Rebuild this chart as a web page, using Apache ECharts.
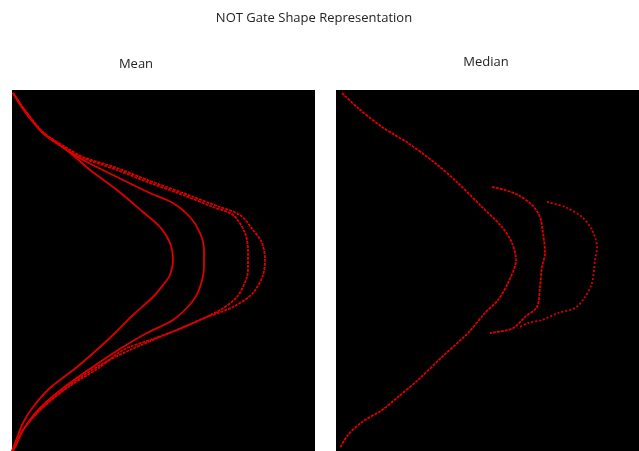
<!DOCTYPE html>
<html>
<head>
<meta charset="utf-8">
<script src="https://cdn.jsdelivr.net/npm/echarts@6/dist/echarts.min.js"></script>
<style>
  html, body { margin: 0; padding: 0; background: #fff; }
  #chart { width: 639px; height: 451px; }
</style>
</head>
<body>
<div id="chart"></div>
<script>
// values, in panel units (x to the right, y downward)
let panelTitles = ["Mean", "Median"];

let meanCurve1 = [[1,3],[13,22],[31,43],[48,55],[63,67],[78,80],[105,100],[131,122],[148,137],[158,153],[161,170],[158,185],[151,195],[141,207],[121,225],[103,243],[88,257],[65,277],[38,298],[21,317],[11,333],[3,353],[0,361]];
let meanCurve2 = [[1,3],[13,21],[31,43],[55,60],[71,70],[105,87],[138,103],[161,113],[178,127],[188,143],[192,160],[192,177],[188,197],[180,212],[161,230],[135,243],[111,257],[88,272],[55,295],[28,318],[11,340],[3,357],[0,361]];
let meanCurve3 = [[1,3],[13,21],[31,43],[55,60],[71,68],[105,80],[138,93],[171,105],[201,117],[221,125],[233,143],[236,160],[236,177],[235,187],[225,207],[208,220],[181,233],[148,247],[118,260],[88,275],[55,297],[28,320],[11,340],[3,357],[0,361]];
let meanCurve4 = [[1,3],[13,20],[31,42],[55,58],[71,67],[105,78],[138,91],[171,103],[205,116],[228,125],[241,140],[250,153],[253,170],[251,185],[241,203],[221,217],[195,227],[165,240],[138,250],[111,260],[88,277],[55,298],[28,320],[11,340],[3,357],[0,361]];

let medianCurve1 = [[6,3],[22,18],[46,37],[72,53],[99,73],[122,93],[146,117],[166,137],[176,153],[180,170],[172,193],[162,210],[149,223],[132,243],[106,267],[82,290],[62,307],[46,320],[26,332],[12,345],[4,358]];
let medianCurve2 = [[156,97],[169,100],[182,105],[196,115],[204,127],[207,143],[209,163],[206,177],[204,197],[201,217],[189,227],[179,237],[172,240],[154,243]];
let medianCurve3 = [[211,112],[229,117],[246,127],[256,140],[261,157],[259,170],[256,193],[249,207],[239,218],[222,223],[206,230],[192,233],[182,238]];

let chart = echarts.init(document.getElementById("chart"));

const red = "#dc0000";
const font = "'Open Sans', sans-serif";

function curve(data, gridIdx, type) {
    return {
        type: "line",
        xAxisIndex: gridIdx,
        yAxisIndex: gridIdx,
        data: data,
        smooth: 0.3,
        symbol: "none",
        silent: true,
        lineStyle: { color: red, width: 1.8, type: type || "solid" }
    };
}

function axisX(i) {
    return { type: "value", gridIndex: i, min: 0, max: 303, show: false };
}
function axisY(i) {
    return { type: "value", gridIndex: i, min: 0, max: 361, inverse: true, show: false };
}

let option = {
    backgroundColor: "#fff",
    animation: false,
    title: [
        {
            text: "NOT Gate Shape Representation",
            left: 309, top: 7, textAlign: "center",
            textStyle: { fontFamily: font, fontSize: 13, fontWeight: "normal", color: "#222" }
        },
        {
            text: panelTitles[0],
            left: 131, top: 53, textAlign: "center",
            textStyle: { fontFamily: font, fontSize: 13, fontWeight: "normal", color: "#222" }
        },
        {
            text: panelTitles[1],
            left: 481, top: 51, textAlign: "center",
            textStyle: { fontFamily: font, fontSize: 13, fontWeight: "normal", color: "#222" }
        }
    ],
    grid: [
        { left: 12, top: 90, width: 303, height: 361, show: true, backgroundColor: "#000", borderWidth: 0 },
        { left: 336, top: 90, width: 303, height: 361, show: true, backgroundColor: "#000", borderWidth: 0 }
    ],
    xAxis: [axisX(0), axisX(1)],
    yAxis: [axisY(0), axisY(1)],
    series: [
        curve(meanCurve1, 0),
        curve(meanCurve2, 0),
        curve(meanCurve3, 0, [3, 1]),
        curve(meanCurve4, 0, [3, 1]),
        curve(medianCurve1, 1, [3, 1]),
        curve(medianCurve2, 1, [3, 1]),
        curve(medianCurve3, 1, [2, 2])
    ]
};
chart.setOption(option);
</script>
</body>
</html>
